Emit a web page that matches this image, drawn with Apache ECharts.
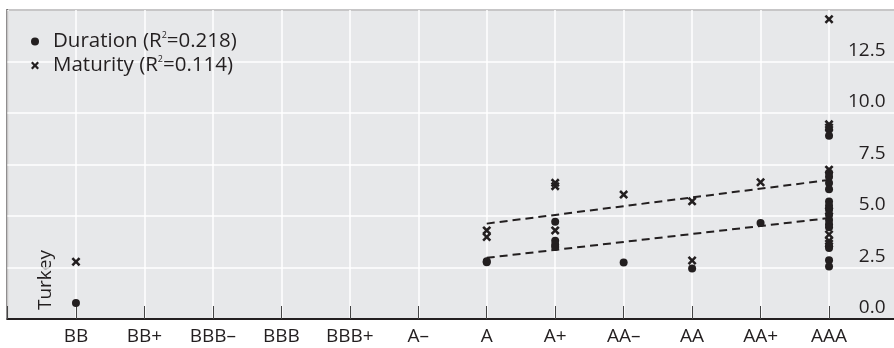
<!DOCTYPE html>
<html>
<head>
<meta charset="utf-8">
<script src="https://cdn.jsdelivr.net/npm/echarts@6/dist/echarts.min.js"></script>
<style>
  html, body { margin: 0; padding: 0; background: #ffffff; }
  #chart { width: 894px; height: 348px; }
</style>
</head>
<body>
<div id="chart"></div>
<script>
// ---- data ----
const categories = ['BB', 'BB+', 'BBB–', 'BBB', 'BBB+', 'A–', 'A', 'A+', 'AA–', 'AA', 'AA+', 'AAA'];
const yTicks = ['0.0', '2.5', '5.0', '7.5', '10.0', '12.5'];

const durationRatings = ['BB', 'A', 'A', 'A+', 'A+', 'A+', 'A+', 'AA–', 'AA', 'AA+',
  'AAA', 'AAA', 'AAA', 'AAA', 'AAA', 'AAA', 'AAA', 'AAA', 'AAA', 'AAA', 'AAA', 'AAA', 'AAA', 'AAA', 'AAA', 'AAA', 'AAA'];
const durationValues = [0.78, 2.8, 2.75, 4.72, 3.8, 3.6, 3.49, 2.74, 2.45, 4.66,
  9.2, 8.9, 7.1, 6.9, 6.6, 6.3, 5.7, 5.5, 5.3, 5.05, 4.8, 4.6, 4.45, 3.55, 3.45, 2.85, 2.55];

const maturityRatings = ['BB', 'A', 'A', 'A+', 'A+', 'A+', 'AA–', 'AA', 'AA', 'AA+',
  'AAA', 'AAA', 'AAA', 'AAA', 'AAA', 'AAA', 'AAA', 'AAA'];
const maturityValues = [2.78, 4.3, 3.98, 6.61, 6.45, 4.3, 6.04, 5.71, 2.84, 6.64,
  14.55, 9.45, 9.3, 7.25, 5.25, 4.1, 3.8, 3.65];

const durationFitRatings = ['A', 'AAA'];
const durationFitValues = [2.97, 4.9];
const maturityFitRatings = ['A', 'AAA'];
const maturityFitValues = [4.63, 6.75];

const seriesLabels = { Duration: ['Duration', '0.218'], Maturity: ['Maturity', '0.114'] };
const annotation = 'Turkey';

// ---- build ----
const pts = (cats, vals) => cats.map((c, i) => [categories.indexOf(c), vals[i]]);
const INK = '#231f20';
const FONT = 'Open Sans';
const FS = 19;
const LFS = 20.5;
const crossPath = 'path://M0,2L2,0L5,3L8,0L10,2L7,5L10,8L8,10L5,7L2,10L0,8L3,5Z';

const chart = echarts.init(document.getElementById('chart'), null, { renderer: 'canvas' });
chart.setOption({
  animation: false,
  backgroundColor: '#ffffff',
  textStyle: { fontFamily: FONT, color: INK },
  grid: {
    left: 7.5, right: -3.5, top: 10, bottom: 29,
    outerBoundsMode: 'none', containLabel: false,
    show: true, backgroundColor: '#e7e8ea', borderColor: INK, borderWidth: 2
  },
  legend: {
    orient: 'vertical', left: 26, top: 26,
    itemWidth: 8, itemHeight: 8, itemGap: 3,
    data: [{ name: 'Duration', icon: 'circle' }, { name: 'Maturity', icon: crossPath }],
    formatter: n => seriesLabels[n][0] + ' (R{sup|2}=' + seriesLabels[n][1] + ')',
    textStyle: {
      fontFamily: FONT, fontSize: LFS, color: INK, lineHeight: 21, padding: [0, 0, 0, 9],
      rich: { sup: { fontFamily: FONT, fontSize: 9, color: INK, verticalAlign: 'top', lineHeight: 9, padding: [0, 0, 11, 0] } }
    }
  },
  xAxis: {
    type: 'value', min: -1, max: 12, interval: 1,
    axisLine: { show: true, lineStyle: { color: INK, width: 2 } },
    axisTick: { show: true, inside: true, length: 13, lineStyle: { color: '#444', width: 1 } },
    splitLine: { show: true, lineStyle: { color: '#ffffff', width: 1.5 } },
    axisLabel: {
      margin: 8, fontFamily: FONT, fontSize: FS, color: INK,
      formatter: v => (Number.isInteger(v) && v >= 0 && v < categories.length) ? categories[v] : ''
    }
  },
  yAxis: {
    type: 'value', position: 'right', min: 0, max: 15, interval: 2.5,
    axisLine: { show: false }, axisTick: { show: false },
    splitLine: { show: true, lineStyle: { color: '#ffffff', width: 1.5 } },
    axisLabel: {
      inside: true, margin: 12, fontFamily: FONT, fontSize: FS, color: INK,
      verticalAlign: 'bottom', lineHeight: 20, padding: [0, 0, 1, 0],
      showMaxLabel: false,
      formatter: v => { const i = Math.round(v / 2.5); return (Math.abs(v - i * 2.5) < 1e-6 && i < yTicks.length) ? yTicks[i] : ''; }
    }
  },
  graphic: [{
    type: 'text', x: 46, y: 280, rotation: Math.PI / 2,
    style: { text: annotation, font: FS + 'px "' + FONT + '"', fill: INK, textAlign: 'center', textVerticalAlign: 'middle' }
  }],
  series: [
    {
      name: 'Duration', type: 'scatter', symbol: 'circle', symbolSize: 8,
      itemStyle: { color: INK, opacity: 1 }, data: pts(durationRatings, durationValues), z: 3
    },
    {
      name: 'Maturity', type: 'scatter', symbol: crossPath, symbolSize: 9,
      itemStyle: { color: INK, opacity: 1 }, data: pts(maturityRatings, maturityValues), z: 3
    },
    {
      name: 'DurationFit', type: 'line', symbol: 'none', silent: true,
      lineStyle: { color: INK, width: 2, type: [8, 5] },
      data: pts(durationFitRatings, durationFitValues), z: 2
    },
    {
      name: 'MaturityFit', type: 'line', symbol: 'none', silent: true,
      lineStyle: { color: INK, width: 2, type: [8, 5] },
      data: pts(maturityFitRatings, maturityFitValues), z: 2
    }
  ]
});
</script>
</body>
</html>
